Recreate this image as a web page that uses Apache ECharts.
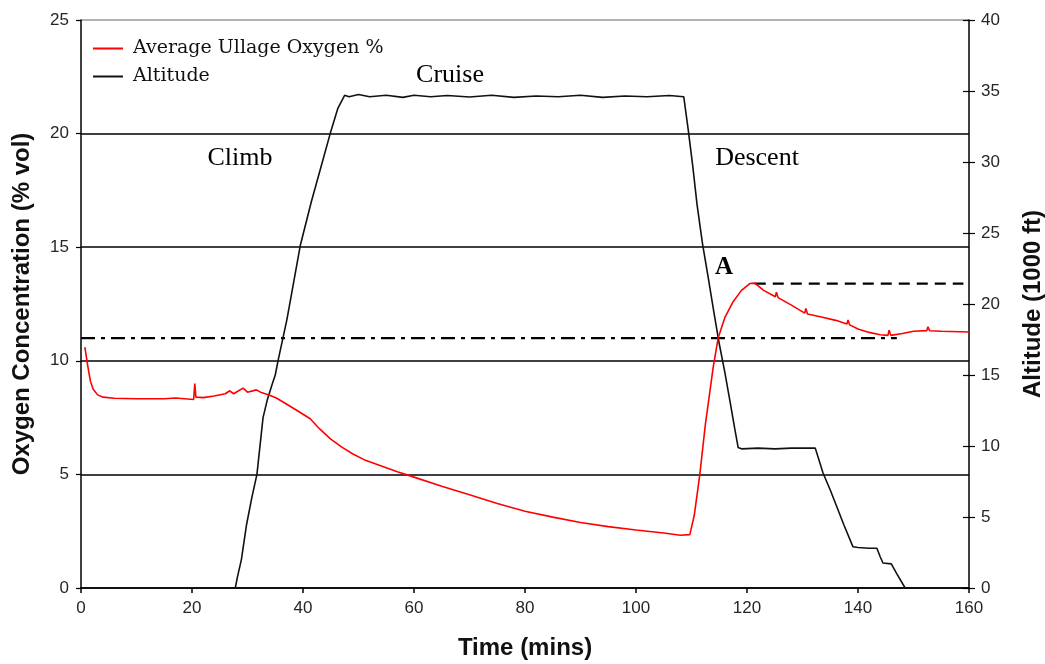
<!DOCTYPE html>
<html>
<head>
<meta charset="utf-8">
<script src="https://cdn.jsdelivr.net/npm/echarts@6/dist/echarts.min.js"></script>
<style>
html,body{margin:0;padding:0;background:#fff;}
#chart{width:1045px;height:664px;}
</style>
</head>
<body>
<div id="chart"></div>
<script>
// ---- data ----
const oxyTime = [0.7,1.2,1.7,2.2,3,4,6,10,15,17,20.3,20.5,20.7,22,24,26,26.8,27.5,29.2,30,31.6,32.5,34,35.2,37,39,41.3,43,45,47,49,51,54,57,60,65,70,75,80,85,90,95,100,105,108,109.7,110.5,111.5,112.5,113.9,114.8,116,117.5,119,120.5,121.4,123,125.1,125.3,125.6,128,130.4,130.6,130.9,133,136,138,138.2,138.5,140,142,144,145.4,145.6,145.9,148,150,152.4,152.6,152.9,155,160];
const oxyValue = [10.6,9.8,9.1,8.75,8.5,8.4,8.35,8.33,8.33,8.36,8.3,9.0,8.4,8.38,8.45,8.55,8.68,8.55,8.8,8.62,8.72,8.6,8.48,8.36,8.1,7.8,7.45,7.0,6.55,6.2,5.9,5.65,5.38,5.12,4.88,4.48,4.1,3.72,3.38,3.12,2.88,2.7,2.55,2.42,2.32,2.35,3.2,5.0,7.2,9.7,11.0,11.9,12.6,13.1,13.4,13.42,13.1,12.82,13.02,12.78,12.45,12.1,12.3,12.06,11.95,11.78,11.62,11.8,11.58,11.4,11.25,11.15,11.12,11.35,11.12,11.2,11.3,11.33,11.5,11.32,11.3,11.27];

const altTime = [27.8,28.2,28.9,29.8,30.8,31.7,32.8,33.6,34.4,35,35.5,37.1,39.5,41.5,43.2,44.9,46.3,47.5,48.3,50,52,55,58,60,63,66,70,74,78,82,86,90,94,98,102,106,108.6,109.4,110.2,111,112,113,114,115,116,117,117.8,118.4,119,122,125,128,131,132.3,133.7,135,136.2,137.5,139.1,140,142,143.4,144,144.5,146,147,148.5];
const altValue = [0,0.8,2.0,4.4,6.4,8.0,12.0,13.3,14.3,15.0,16.0,18.9,24.1,27.2,29.6,32.0,33.8,34.7,34.6,34.75,34.6,34.7,34.55,34.7,34.6,34.68,34.58,34.7,34.55,34.65,34.6,34.7,34.55,34.65,34.6,34.68,34.6,32.3,29.8,27.0,24.2,21.9,19.5,17.2,15.2,13.0,11.2,9.9,9.8,9.85,9.8,9.85,9.85,9.85,8.1,6.9,5.7,4.4,2.9,2.85,2.8,2.8,2.2,1.76,1.7,1.0,0];

const xTicks = {min:0, max:160, interval:20};
const leftTicks = {min:0, max:25, interval:5};
const rightTicks = {min:0, max:40, interval:5};

const dashDotLine = {x:[0,147], y:[11,11]};
const dashedLine = {x:[121.4,159], y:[13.4,13.4]};

const seriesNames = ['Average Ullage Oxygen %','Altitude'];
const annotations = ['Climb','Cruise','Descent','A'];

function pairs(xs, ys){ return xs.map((x,i)=>[x, ys[i]]); }

const chart = echarts.init(document.getElementById('chart'), null, {renderer:'canvas'});
const tickFont = {fontFamily:'Liberation Sans', fontSize:17, color:'#262626'};
const nameFont = {fontFamily:'Liberation Sans', fontSize:24, fontWeight:'bold', color:'#111'};

chart.setOption({
  animation:false,
  backgroundColor:'#fff',
  grid:{left:81, right:76, top:20, bottom:76, containLabel:false, outerBoundsMode:'none'},
  legend:{
    data:seriesNames.map(n=>({name:n, icon:'rect'})),
    orient:'vertical',
    left:88, top:34,
    itemWidth:30, itemHeight:2, itemGap:9,
    textStyle:{fontFamily:'DejaVu Serif', fontSize:19, color:'#111', padding:[0,0,0,5]}
  },
  xAxis:{
    type:'value', min:xTicks.min, max:xTicks.max, interval:xTicks.interval,
    name:'Time (mins)', nameLocation:'middle', nameGap:48, nameTextStyle:nameFont,
    axisLine:{show:true, onZero:false, lineStyle:{color:'#000', width:1.5}},
    axisTick:{show:true, length:5, lineStyle:{color:'#000', width:1.5}},
    axisLabel:Object.assign({margin:12}, tickFont),
    splitLine:{show:false}
  },
  yAxis:[
    {
      type:'value', min:leftTicks.min, max:leftTicks.max, interval:leftTicks.interval,
      name:'Oxygen Concentration (% vol)', nameLocation:'middle', nameGap:47, nameRotate:90, nameTextStyle:nameFont,
      axisLine:{show:true, lineStyle:{color:'#000', width:1.5}},
      axisTick:{show:true, length:5, lineStyle:{color:'#000', width:1.2}},
      axisLabel:Object.assign({margin:12}, tickFont),
      splitLine:{show:true, lineStyle:{color:['#000','#000','#000','#000','#000','#999'], width:1.5}}
    },
    {
      type:'value', min:rightTicks.min, max:rightTicks.max, interval:rightTicks.interval,
      position:'right',
      name:'Altitude (1000 ft)', nameLocation:'middle', nameGap:52, nameRotate:90, nameTextStyle:nameFont,
      axisLine:{show:true, lineStyle:{color:'#000', width:1.5}},
      axisTick:{show:true, length:6, lineStyle:{color:'#000', width:1.2}},
      axisLabel:Object.assign({margin:12}, tickFont),
      splitLine:{show:false}
    },
    {
      type:'value', min:rightTicks.min, max:rightTicks.max, interval:rightTicks.interval,
      position:'right',
      axisLine:{show:false},
      axisTick:{show:true, inside:true, length:6, lineStyle:{color:'#000', width:1.2}},
      axisLabel:{show:false},
      splitLine:{show:false}
    }
  ],
  series:[
    {
      name:seriesNames[0], type:'line', yAxisIndex:0, data:pairs(oxyTime, oxyValue),
      symbol:'none', smooth:false, color:'#ff0000',
      lineStyle:{color:'#ff0000', width:1.6}, z:4
    },
    {
      name:seriesNames[1], type:'line', yAxisIndex:1, data:pairs(altTime, altValue),
      symbol:'none', smooth:false, color:'#111',
      lineStyle:{color:'#111', width:1.6}, z:3
    },
    {
      name:'ref1', type:'line', yAxisIndex:0, data:pairs(dashDotLine.x, dashDotLine.y),
      symbol:'none', silent:true,
      lineStyle:{color:'#000', width:2.2, type:[14,6,4,6]}, z:2
    },
    {
      name:'ref2', type:'line', yAxisIndex:0, data:pairs(dashedLine.x, dashedLine.y),
      symbol:'none', silent:true,
      lineStyle:{color:'#000', width:2.2, type:[11,7]}, z:2
    }
  ],
  graphic:[
    {type:'text', x:240, y:158, style:{text:annotations[0], font:'26px "Liberation Serif"', fill:'#000', textAlign:'center', textVerticalAlign:'middle'}},
    {type:'text', x:450, y:75, style:{text:annotations[1], font:'26px "Liberation Serif"', fill:'#000', textAlign:'center', textVerticalAlign:'middle'}},
    {type:'text', x:757, y:158, style:{text:annotations[2], font:'26px "Liberation Serif"', fill:'#000', textAlign:'center', textVerticalAlign:'middle'}},
    {type:'text', x:724, y:268, style:{text:annotations[3], font:'bold 25px "Liberation Serif"', fill:'#000', textAlign:'center', textVerticalAlign:'middle'}}
  ]
});
</script>
</body>
</html>
